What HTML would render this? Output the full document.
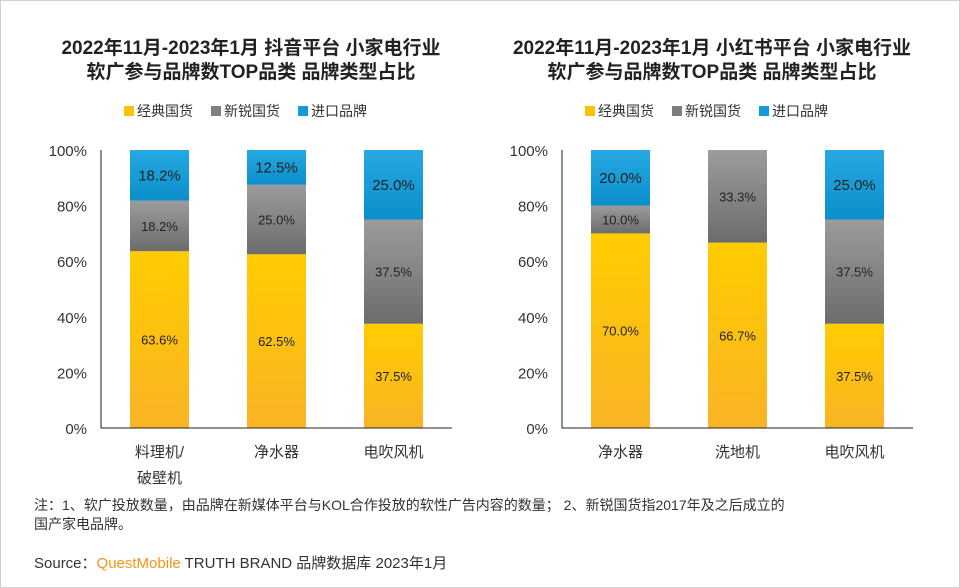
<!DOCTYPE html>
<html><head><meta charset="utf-8">
<style>
html,body{margin:0;padding:0;background:#fff;}
body{width:960px;height:588px;position:relative;overflow:hidden;font-family:"Liberation Sans","Noto Sans CJK SC",sans-serif;}
#frame{position:absolute;left:0;top:0;width:958px;height:586px;border:1px solid #d0d0d0;}
.note{position:absolute;left:34px;font-size:14px;color:#333;line-height:19px;}
</style></head><body>
<div id="frame"></div>
<svg id="c" width="960" height="588" style="position:absolute;left:0;top:0">
<defs>
<linearGradient id="gy" x1="0" y1="0" x2="0" y2="1"><stop offset="0" stop-color="#ffcc00"/><stop offset="1" stop-color="#fab425"/></linearGradient>
<linearGradient id="gg" x1="0" y1="0" x2="0" y2="1"><stop offset="0" stop-color="#9c9c9c"/><stop offset="1" stop-color="#6c6c6c"/></linearGradient>
<linearGradient id="gb" x1="0" y1="0" x2="0" y2="1"><stop offset="0" stop-color="#27a8e0"/><stop offset="1" stop-color="#0a8fcc"/></linearGradient>
</defs>
</svg>
<div class="note" style="top:496px">注：1、软广投放数量，由品牌在新媒体平台与KOL合作投放的软性广告内容的数量； 2、新锐国货指2017年及之后成立的<br>国产家电品牌。</div>
<div class="note" style="top:554px;font-size:15px">Source：<span style="color:#f7941d">QuestMobile</span> TRUTH BRAND 品牌数据库 2023年1月</div>
<script>
const leftCategories=[["料理机/","破壁机"],["净水器"],["电吹风机"]];
const leftClassic=[63.6,62.5,37.5];
const leftNew=[18.2,25.0,37.5];
const leftImport=[18.2,12.5,25.0];
const rightCategories=[["净水器"],["洗地机"],["电吹风机"]];
const rightClassic=[70.0,66.7,37.5];
const rightNew=[10.0,33.3,37.5];
const rightImport=[20.0,0,25.0];
const yTicks=[0,20,40,60,80,100];
const seriesNames=["经典国货","新锐国货","进口品牌"];
const titleL=["2022年11月-2023年1月 抖音平台 小家电行业","软广参与品牌数TOP品类 品牌类型占比"];
const titleR=["2022年11月-2023年1月 小红书平台 小家电行业","软广参与品牌数TOP品类 品牌类型占比"];

const svg=document.getElementById('c');
const NS='http://www.w3.org/2000/svg';
function mk(tag,attrs,parent){const e=document.createElementNS(NS,tag);for(const k in attrs)e.setAttribute(k,attrs[k]);(parent||svg).appendChild(e);return e;}
const fills=['url(#gy)','url(#gg)','url(#gb)'];
const legendColors=['#fcc300','#7f7f7f','#149ad8'];

function chart(ox,cats,series,title,id){
  const top=150,bottom=428,w=351;
  const y=v=>bottom-(bottom-top)*v/100;
  const band=w/cats.length,bw=59;
  const x=i=>ox+band*i+band/2;
  const g=mk('g',{});
  
  
  const cx=ox+150;
  title.forEach((t,i)=>{const e=mk('text',{x:cx,y:54+i*24,'text-anchor':'middle','font-size':19,'font-weight':'bold',fill:'#222'},g);e.textContent=t;
    });
  // legend
  const lx=[cx-127,cx-40,cx+47];
  seriesNames.forEach((n,i)=>{
    const r=mk('rect',{x:lx[i],y:106,width:10,height:10,fill:legendColors[i]},g);
    
    const t=mk('text',{x:lx[i]+13,y:116,'font-size':14,fill:'#333'},g);t.textContent=n;
    
  });
  yTicks.forEach(v=>{const t=mk('text',{x:ox-14,y:y(v)+6,'text-anchor':'end','font-size':15,fill:'#333'},g);t.textContent=v+'%';
    });
  cats.forEach((c,i)=>{
    let base=0;
    series.forEach((s,k)=>{
      const v=s[i];
      if(v>0){
        const r=mk('rect',{x:x(i)-bw/2,y:y(base+v),width:bw,height:y(base)-y(base+v),fill:fills[k]},g);
        
        const t=mk('text',{x:x(i),y:(y(base)+y(base+v))/2+5,'text-anchor':'middle','font-size':k==2?15:13,fill:'#222'},g);
        t.textContent=v.toFixed(1)+'%';
        
      }
      base+=v;
    });
    c.forEach((l,j)=>{const t=mk('text',{x:x(i),y:457+j*26,'text-anchor':'middle','font-size':15,fill:'#333'},g);t.textContent=l;
      });
  });
  const ax=mk('path',{d:`M${ox} ${top}V${bottom}H${ox+w}`,stroke:'#222','stroke-width':1,fill:'none'},g);
  
}
chart(101,leftCategories,[leftClassic,leftNew,leftImport],titleL,'douyin');
chart(562,rightCategories,[rightClassic,rightNew,rightImport],titleR,'xiaohongshu');
</script>
</body></html>
